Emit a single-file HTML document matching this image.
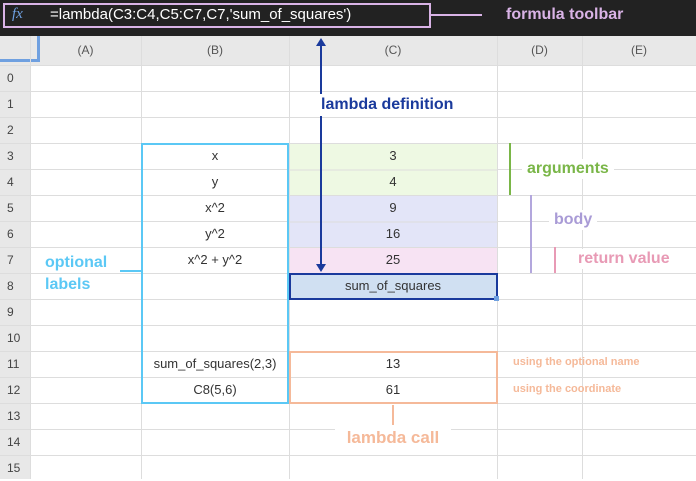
<!DOCTYPE html>
<html><head><style>
body{margin:0;width:696px;height:479px;overflow:hidden;background:#fff;font-family:"Liberation Sans",sans-serif;position:relative}
div{position:absolute;box-sizing:border-box}
.c{text-align:center;font-size:13px;color:#333;line-height:26px}
.b{font-weight:bold}
</style></head><body>
<div style="left:0;top:0;width:696px;height:36px;background:#222"></div>
<div style="left:3px;top:3px;width:428px;height:25px;border:2px solid #d9b3e6"></div>
<div style="left:12px;top:6px;color:#6fa0e0;font-family:'Liberation Serif',serif;font-style:italic;font-size:15px">fx</div>
<div style="left:50px;top:6px;color:#fff;font-size:15px">=lambda(C3:C4,C5:C7,C7,'sum_of_squares')</div>
<div style="left:430px;top:14px;width:52px;height:2px;background:#d9b3e6"></div>
<div class="b" style="left:506px;top:6px;color:#d9b3e6;font-size:16px">formula toolbar</div>
<div style="left:0;top:36px;width:696px;height:29px;background:#e8e8e8"></div>
<div style="left:0;top:36px;width:30px;height:443px;background:#e8e8e8"></div>
<div style="left:0;top:36px;width:40px;height:26px;border-right:3px solid #6fa0e0;border-bottom:3px solid #6fa0e0"></div>
<svg width="696" height="479" style="position:absolute;left:0;top:0">
<g stroke="#ddd" stroke-width="1">
<line x1="141.5" y1="36" x2="141.5" y2="479"/><line x1="289.5" y1="36" x2="289.5" y2="479"/><line x1="497.5" y1="36" x2="497.5" y2="479"/><line x1="582.5" y1="36" x2="582.5" y2="479"/><line x1="30.5" y1="36" x2="30.5" y2="479"/>
<line x1="0" y1="65.5" x2="696" y2="65.5"/><line x1="0" y1="91.5" x2="696" y2="91.5"/><line x1="0" y1="117.5" x2="696" y2="117.5"/><line x1="0" y1="143.5" x2="696" y2="143.5"/><line x1="0" y1="169.5" x2="696" y2="169.5"/><line x1="0" y1="195.5" x2="696" y2="195.5"/><line x1="0" y1="221.5" x2="696" y2="221.5"/><line x1="0" y1="247.5" x2="696" y2="247.5"/><line x1="0" y1="273.5" x2="696" y2="273.5"/><line x1="0" y1="299.5" x2="696" y2="299.5"/><line x1="0" y1="325.5" x2="696" y2="325.5"/><line x1="0" y1="351.5" x2="696" y2="351.5"/><line x1="0" y1="377.5" x2="696" y2="377.5"/><line x1="0" y1="403.5" x2="696" y2="403.5"/><line x1="0" y1="429.5" x2="696" y2="429.5"/><line x1="0" y1="455.5" x2="696" y2="455.5"/>
</g>
<rect x="290" y="144" width="207" height="51" fill="#eef9e3"/>
<rect x="290" y="196" width="207" height="51" fill="#e3e5f8"/>
<rect x="290" y="248" width="207" height="25" fill="#f7e3f3"/>
<line x1="290" y1="170" x2="497" y2="170" stroke="#ddd"/><line x1="290" y1="222" x2="497" y2="222" stroke="#ddd"/>
<rect x="290" y="274" width="207" height="25" fill="#d0e0f2" stroke="#1a3a9c" stroke-width="2"/>
<rect x="494" y="296" width="5" height="5" fill="#6fa0e0"/>
<rect x="142" y="144" width="146" height="259" fill="none" stroke="#5bc8f5" stroke-width="2"/>
<rect x="290" y="352" width="207" height="51" fill="none" stroke="#f5b999" stroke-width="2"/>
<line x1="393" y1="405" x2="393" y2="425" stroke="#f5b999" stroke-width="2"/>
<line x1="120" y1="271" x2="141" y2="271" stroke="#5bc8f5" stroke-width="2"/>
<line x1="321" y1="44" x2="321" y2="265" stroke="#1a3a9c" stroke-width="2"/>
<polygon points="316,46 326,46 321,38" fill="#1a3a9c"/>
<polygon points="316,264 326,264 321,272" fill="#1a3a9c"/>
<line x1="510" y1="143" x2="510" y2="195" stroke="#7ab648" stroke-width="2"/>
<line x1="531" y1="195" x2="531" y2="273" stroke="#b3a7dd" stroke-width="2"/>
<line x1="555" y1="247" x2="555" y2="273" stroke="#e89ab5" stroke-width="2"/>
</svg>
<div class="c" style="left:30px;top:36px;width:111px;height:29px;line-height:29px;font-size:12px;color:#555">(A)</div>
<div class="c" style="left:141px;top:36px;width:148px;line-height:29px;font-size:12px;color:#555">(B)</div>
<div class="c" style="left:289px;top:36px;width:208px;line-height:29px;font-size:12px;color:#555">(C)</div>
<div class="c" style="left:497px;top:36px;width:85px;line-height:29px;font-size:12px;color:#555">(D)</div>
<div class="c" style="left:582px;top:36px;width:114px;line-height:29px;font-size:12px;color:#555">(E)</div>
<div style="left:7px;top:65px;font-size:12px;color:#444;line-height:26px">0<br>1<br>2<br>3<br>4<br>5<br>6<br>7<br>8<br>9<br>10<br>11<br>12<br>13<br>14<br>15</div>
<div class="c" style="left:141px;top:143px;width:148px">x<br>y<br>x^2<br>y^2<br>x^2 + y^2</div>
<div class="c" style="left:141px;top:351px;width:148px">sum_of_squares(2,3)<br>C8(5,6)</div>
<div class="c" style="left:289px;top:143px;width:208px">3<br>4<br>9<br>16<br>25<br>sum_of_squares</div>
<div class="c" style="left:289px;top:351px;width:208px">13<br>61</div>
<div class="b" style="left:318px;top:94px;background:#fff;color:#1a3a9c;font-size:16px;padding:2px 3px">lambda definition</div>
<div class="b" style="left:45px;top:252px;color:#5bc8f5;font-size:16px;line-height:22px">optional<br>labels</div>
<div class="b" style="left:522px;top:159px;background:#fff;color:#7ab648;font-size:16px;padding:1px 5px">arguments</div>
<div class="b" style="left:549px;top:210px;background:#fff;color:#a99bd6;font-size:16px;padding:1px 5px">body</div>
<div class="b" style="left:573px;top:249px;background:#fff;color:#e89ab5;font-size:16px;padding:1px 5px">return value</div>
<div class="b" style="left:513px;top:356px;color:#f5b999;font-size:11px">using the optional name</div>
<div class="b" style="left:513px;top:383px;color:#f5b999;font-size:11px">using the coordinate</div>
<div class="b" style="left:335px;top:428px;width:116px;background:#fff;color:#f5b999;font-size:17px;text-align:center">lambda call</div>
</body></html>
